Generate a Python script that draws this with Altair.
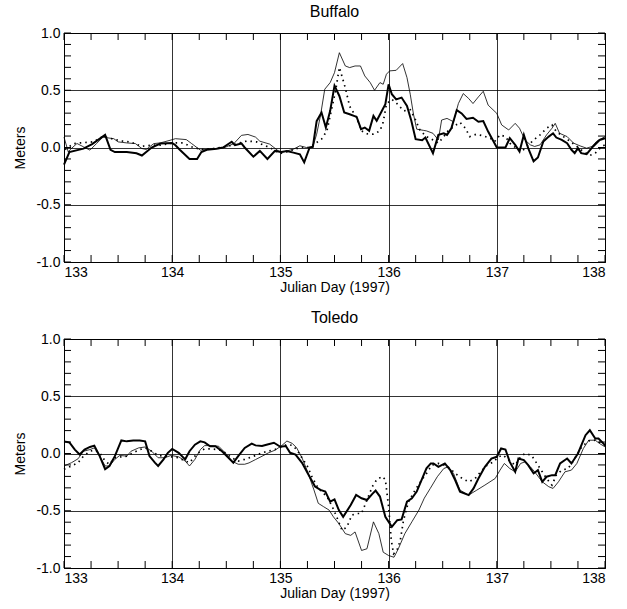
import altair as alt
import pandas as pd

# ---------------- data ----------------
BUF_THICK_D = [133.0, 133.05, 133.18, 133.26, 133.38, 133.43, 133.47, 133.58, 133.67, 133.72, 133.81, 133.89,
               134.0, 134.03, 134.07, 134.16, 134.23, 134.27, 134.32, 134.41, 134.47, 134.55, 134.58, 134.64,
               134.67, 134.75, 134.81, 134.88, 134.95, 135.01, 135.06, 135.12, 135.18, 135.22, 135.27, 135.30,
               135.335, 135.38, 135.42, 135.46, 135.50, 135.545, 135.59, 135.64, 135.705, 135.745, 135.78, 135.82,
               135.86, 135.89, 135.93, 135.97, 136.0, 136.03, 136.07, 136.12, 136.17, 136.21, 136.25, 136.31,
               136.34, 136.41, 136.46, 136.51, 136.54, 136.58, 136.63, 136.675, 136.72, 136.78, 136.83, 136.875,
               136.92, 137.0, 137.08, 137.12, 137.17, 137.21, 137.25, 137.29, 137.34, 137.38, 137.43, 137.48,
               137.52, 137.55, 137.6, 137.65, 137.69, 137.72, 137.75, 137.78, 137.83, 137.89, 137.95, 138.0]
BUF_THICK_V = [-0.15, -0.04, -0.01, 0.03, 0.11, -0.02, -0.04, -0.04, -0.05, -0.07, 0.0, 0.035,
               0.04, 0.02, -0.02, -0.10, -0.10, -0.04, -0.02, -0.01, 0.0, 0.05, 0.02, 0.035,
               0.0, -0.08, -0.03, -0.10, -0.03, -0.04, -0.03, -0.045, -0.06, -0.13, 0.0, 0.006,
               0.23, 0.305, 0.175, 0.32, 0.54, 0.45, 0.305, 0.29, 0.267, 0.16, 0.174, 0.145,
               0.276, 0.233, 0.305, 0.378, 0.552, 0.465, 0.42, 0.436, 0.363, 0.233, 0.073, 0.064,
               0.087, -0.05, 0.11, 0.124, 0.11, 0.168, 0.327, 0.298, 0.249, 0.26, 0.225, 0.231,
               0.139, 0.0, 0.0, 0.081, 0.023, -0.035, 0.11, -0.006, -0.121, -0.087, 0.052, 0.095,
               0.124, 0.087, 0.066, 0.038, -0.02, -0.049, -0.006, -0.049, -0.058, 0.009, 0.066, 0.081]

BUF_THIN_D = [133.0, 133.04, 133.055, 133.12, 133.18, 133.24, 133.30, 133.36, 133.46, 133.50, 133.58, 133.66,
              133.72, 133.76, 133.83, 133.89, 133.98, 134.03, 134.13, 134.18, 134.26, 134.32, 134.41, 134.50,
              134.57, 134.64, 134.70, 134.77, 134.81, 134.90, 135.0, 135.06, 135.12, 135.18, 135.24, 135.30,
              135.335, 135.37, 135.41, 135.46, 135.50, 135.545, 135.60, 135.64, 135.69, 135.74, 135.78, 135.83,
              135.87, 135.92, 135.95, 135.98, 136.01, 136.07, 136.13, 136.17, 136.20, 136.23, 136.26, 136.32,
              136.35, 136.41, 136.46, 136.49, 136.54, 136.60, 136.645, 136.69, 136.74, 136.78, 136.83, 136.875,
              136.92, 137.0, 137.045, 137.11, 137.17, 137.21, 137.26, 137.31, 137.35, 137.40, 137.46, 137.51,
              137.54, 137.58, 137.65, 137.71, 137.77, 137.83, 137.88, 137.92, 138.0]
BUF_THIN_V = [0.09, -0.04, -0.02, 0.035, 0.006, -0.023, 0.034, 0.09, 0.077, 0.049, 0.04, 0.034,
              -0.009, -0.017, 0.034, 0.04, 0.063, 0.077, 0.069, 0.034, -0.023, -0.017, -0.009, 0.006,
              0.034, 0.106, 0.114, 0.091, 0.055, 0.03, -0.044, -0.03, -0.015, 0.015, 0.0, 0.006,
              0.116, 0.276, 0.509, 0.567, 0.654, 0.828, 0.712, 0.698, 0.712, 0.712, 0.625, 0.567,
              0.5, 0.567, 0.552, 0.64, 0.669, 0.674, 0.733, 0.61, 0.465, 0.29, 0.16, 0.15,
              0.145, 0.124, 0.066, 0.24, 0.254, 0.225, 0.384, 0.471, 0.428, 0.384, 0.442, 0.491,
              0.37, 0.298, 0.197, 0.153, 0.211, 0.168, 0.066, 0.023, 0.009, 0.023, 0.11, 0.168,
              0.211, 0.124, 0.095, 0.038, 0.014, -0.006, 0.009, 0.052, 0.095]

BUF_DOT_D = [133.01, 133.09, 133.15, 133.27, 133.36, 133.44, 133.53, 133.61, 133.72, 133.81, 133.89, 134.01,
             134.10, 134.18, 134.26, 134.38, 134.50, 134.60, 134.69, 134.78, 134.81, 134.90, 135.0, 135.09,
             135.18, 135.27, 135.335, 135.38, 135.43, 135.47, 135.51, 135.545, 135.60, 135.64, 135.705, 135.75,
             135.80, 135.86, 135.92, 135.95, 135.98, 136.03, 136.07, 136.14, 136.20, 136.24, 136.29, 136.35,
             136.41, 136.46, 136.51, 136.55, 136.60, 136.66, 136.71, 136.75, 136.81, 136.875, 136.94, 136.98,
             137.03, 137.08, 137.12, 137.18, 137.23, 137.28, 137.34, 137.40, 137.46, 137.51, 137.55, 137.615,
             137.68, 137.74, 137.80, 137.86, 137.91, 137.97, 138.0]
BUF_DOT_V = [-0.017, 0.034, 0.04, 0.049, 0.097, 0.077, 0.057, 0.049, 0.011, 0.02, 0.02, 0.04,
             0.04, 0.006, -0.017, -0.009, 0.006, 0.034, 0.057, 0.049, 0.035, 0.0, -0.052, -0.03,
             0.0, 0.0, 0.044, 0.073, 0.145, 0.32, 0.494, 0.70, 0.52, 0.36, 0.26, 0.145,
             0.12, 0.116, 0.145, 0.22, 0.38, 0.42, 0.39, 0.32, 0.33, 0.26, 0.15, 0.095,
             0.066, 0.038, 0.095, 0.145, 0.182, 0.22, 0.168, 0.095, 0.116, 0.101, 0.081, 0.052,
             0.11, 0.095, 0.038, -0.006, -0.035, 0.009, 0.066, 0.11, 0.168, 0.197, 0.139, 0.095,
             0.052, 0.009, -0.035, -0.069, -0.049, 0.009, 0.023]

TOL_THICK_D = [133.0, 133.05, 133.10, 133.145, 133.19, 133.24, 133.28, 133.33, 133.38, 133.42, 133.47, 133.53,
               133.58, 133.64, 133.70, 133.75, 133.79, 133.84, 133.87, 133.92, 133.96, 134.0, 134.06, 134.12,
               134.16, 134.21, 134.26, 134.30, 134.35, 134.40, 134.46, 134.52, 134.565, 134.61, 134.67, 134.735,
               134.77, 134.83, 134.88, 134.94, 135.0, 135.05, 135.09, 135.14, 135.2, 135.26, 135.32, 135.37,
               135.415, 135.46, 135.50, 135.54, 135.58, 135.65, 135.70, 135.75, 135.80, 135.85, 135.88, 135.92,
               135.97, 136.03, 136.08, 136.12, 136.17, 136.215, 136.26, 136.31, 136.35, 136.39, 136.415, 136.46,
               136.52, 136.57, 136.615, 136.66, 136.74, 136.785, 136.83, 136.89, 136.95, 137.0, 137.04, 137.08,
               137.12, 137.17, 137.2, 137.25, 137.29, 137.34, 137.38, 137.42, 137.46, 137.51, 137.54, 137.585,
               137.65, 137.69, 137.75, 137.82, 137.86, 137.91, 137.94, 138.0]
TOL_THICK_V = [0.106, 0.097, 0.034, -0.009, 0.034, 0.057, 0.069, -0.023, -0.137, -0.109, -0.023, 0.114,
               0.106, 0.114, 0.114, 0.106, -0.023, -0.08, -0.109, -0.051, 0.006, 0.04, 0.006, -0.051,
               0.02, 0.077, 0.106, 0.097, 0.063, 0.063, 0.02, -0.037, -0.08, -0.023, 0.049, 0.086,
               0.071, 0.065, 0.079, 0.094, 0.059, 0.065, 0.006, -0.009, -0.082, -0.185, -0.288, -0.318,
               -0.332, -0.42, -0.40, -0.494, -0.553, -0.45, -0.362, -0.391, -0.406, -0.353, -0.324, -0.376,
               -0.553, -0.641, -0.582, -0.576, -0.42, -0.391, -0.332, -0.22, -0.13, -0.087, -0.087, -0.116,
               -0.087, -0.145, -0.233, -0.334, -0.363, -0.305, -0.218, -0.116, -0.044, -0.029, 0.044, 0.035,
               -0.073, -0.16, -0.044, -0.058, -0.102, -0.174, -0.145, -0.247, -0.203, -0.189, -0.189, -0.087,
               -0.044, -0.087, 0.0, 0.16, 0.203, 0.131, 0.131, 0.073]

TOL_THIN_D = [133.0, 133.07, 133.13, 133.18, 133.24, 133.28, 133.33, 133.38, 133.42, 133.47, 133.515, 133.58,
              133.62, 133.69, 133.75, 133.81, 133.87, 133.93, 133.99, 134.06, 134.12, 134.16, 134.21, 134.26,
              134.30, 134.36, 134.43, 134.49, 134.55, 134.61, 134.67, 134.71, 134.77, 134.83, 134.89, 134.95,
              135.015, 135.06, 135.11, 135.15, 135.2, 135.25, 135.31, 135.35, 135.40, 135.45, 135.49, 135.54,
              135.60, 135.65, 135.69, 135.75, 135.80, 135.86, 135.91, 135.95, 136.0, 136.05, 136.09, 136.15,
              136.215, 136.28, 136.33, 136.385, 136.45, 136.51, 136.55, 136.60, 136.66, 136.74, 136.815, 136.89,
              136.985, 137.03, 137.07, 137.12, 137.17, 137.22, 137.26, 137.31, 137.35, 137.42, 137.48, 137.52,
              137.57, 137.63, 137.69, 137.74, 137.80, 137.85, 137.91, 137.95, 138.0]
TOL_THIN_V = [-0.109, -0.08, -0.046, 0.02, 0.034, 0.049, -0.023, -0.109, -0.109, -0.051, -0.017, -0.023,
              0.02, 0.049, 0.057, 0.02, -0.037, -0.037, -0.017, -0.029, -0.066, -0.109, -0.051, 0.034,
              0.069, 0.069, 0.063, 0.006, -0.066, -0.094, -0.094, -0.082, -0.053, -0.024, 0.006, 0.029,
              0.071, 0.109, 0.088, 0.05, -0.038, -0.156, -0.318, -0.435, -0.465, -0.494, -0.553, -0.612,
              -0.70, -0.715, -0.685, -0.847, -0.832, -0.597, -0.70, -0.862, -0.891, -0.906, -0.832, -0.70,
              -0.597, -0.494, -0.39, -0.305, -0.203, -0.131, -0.116, -0.174, -0.32, -0.363, -0.32, -0.276,
              -0.218, -0.145, -0.087, -0.131, -0.16, -0.087, -0.073, -0.116, -0.16, -0.247, -0.29, -0.305,
              -0.247, -0.16, -0.145, -0.087, 0.044, 0.116, 0.116, 0.087, 0.058]

TOL_DOT_D = [133.0, 133.07, 133.13, 133.18, 133.24, 133.28, 133.33, 133.38, 133.42, 133.47, 133.53, 133.58,
             133.64, 133.70, 133.75, 133.81, 133.87, 133.93, 133.99, 134.06, 134.12, 134.16, 134.21, 134.26,
             134.30, 134.36, 134.43, 134.49, 134.55, 134.61, 134.67, 134.71, 134.77, 134.83, 134.89, 134.95,
             135.015, 135.06, 135.11, 135.15, 135.2, 135.25, 135.29, 135.34, 135.38, 135.43, 135.48, 135.52,
             135.57, 135.615, 135.66, 135.71, 135.75, 135.80, 135.85, 135.89, 135.94, 135.97, 136.0, 136.025,
             136.046, 136.077, 136.108, 136.138, 136.184, 136.246, 136.307, 136.34, 136.40, 136.46, 136.52, 136.57,
             136.615, 136.68, 136.74, 136.80, 136.85, 136.91, 136.97, 137.015, 137.06, 137.11, 137.17, 137.22,
             137.26, 137.32, 137.37, 137.42, 137.46, 137.51, 137.55, 137.60, 137.66, 137.72, 137.785, 137.85,
             137.91, 137.97, 138.0]
TOL_DOT_V = [-0.137, -0.109, -0.08, -0.023, 0.02, 0.029, 0.006, -0.066, -0.094, -0.037, -0.029, -0.023,
             0.006, 0.034, 0.049, 0.02, -0.017, -0.023, -0.029, -0.037, -0.066, -0.08, -0.023, 0.02,
             0.04, 0.04, 0.034, 0.006, -0.037, -0.066, -0.051, -0.038, -0.018, 0.006, 0.021, 0.035,
             0.059, 0.079, 0.071, 0.035, -0.038, -0.112, -0.2, -0.288, -0.332, -0.376, -0.465, -0.553,
             -0.671, -0.641, -0.538, -0.524, -0.524, -0.406, -0.288, -0.229, -0.2, -0.229, -0.465, -0.759,
             -0.876, -0.847, -0.759, -0.582, -0.421, -0.318, -0.229, -0.189, -0.102, -0.087, -0.102, -0.131,
             -0.174, -0.218, -0.247, -0.218, -0.16, -0.102, -0.073, -0.029, -0.015, -0.058, -0.102, -0.029,
             0.0, -0.015, -0.087, -0.16, -0.218, -0.276, -0.189, -0.145, -0.131, -0.044, 0.058, 0.11,
             0.116, 0.087, 0.07]

X_MAJOR = [133, 134, 135, 136, 137, 138]
Y_MAJOR = [-1.0, -0.5, 0.0, 0.5, 1.0]
X_MINOR = [round(133 + 0.25 * i, 2) for i in range(21)]
Y_MINOR = [round(-1.0 + 0.1 * i, 1) for i in range(21)]

FONT = "Liberation Sans"
W, H = 541, 229
TICK = 7


def panel(title, thick, thin, dot):
    xs = alt.Scale(domain=[133, 138], nice=False, zero=False)
    ys = alt.Scale(domain=[-1, 1], nice=False, zero=False)
    x_axis = alt.Axis(values=X_MAJOR, format="d", grid=True, gridColor="black", gridWidth=0.8,
                      gridOpacity=1, ticks=False, domain=False, labelFont=FONT, labelFontSize=14,
                      labelColor="black", labelPadding=3, title="Julian Day (1997)", titleFont=FONT,
                      titleFontSize=14, titleFontWeight="normal", titleColor="black", titlePadding=1)
    y_axis = alt.Axis(values=Y_MAJOR, grid=True, gridColor="black", gridWidth=0.8, gridOpacity=1,
                      ticks=False, domain=False, labelFont=FONT, labelFontSize=14, labelColor="black",
                      labelPadding=4,
                      labelExpr="(datum.value < 0 ? '-' : '') + format(abs(datum.value), '.1f')",
                      title="Meters", titleFont=FONT, titleFontSize=14, titleFontWeight="normal",
                      titleColor="black", titlePadding=8)

    X = lambda: alt.X("day:Q", scale=xs, axis=x_axis)
    Y = lambda: alt.Y("m:Q", scale=ys, axis=y_axis)

    def line_layer(d, v, style):
        df = pd.DataFrame({"day": d, "m": v})
        return alt.Chart(df).mark_line(color="black", **style).encode(x=X(), y=Y())

    thin_l = line_layer(thin[0], thin[1], dict(strokeWidth=0.8))
    dot_l = line_layer(dot[0], dot[1], dict(strokeWidth=1.7, strokeDash=[1.5, 4]))
    thick_l = line_layer(thick[0], thick[1], dict(strokeWidth=2.0))

    xt = pd.DataFrame({"day": X_MINOR})
    yt = pd.DataFrame({"m": Y_MINOR})
    tb = alt.Chart(xt).mark_rule(color="black", strokeWidth=1).encode(
        x=X(), y=alt.value(H), y2=alt.value(H - TICK))
    tt = alt.Chart(xt).mark_rule(color="black", strokeWidth=1).encode(
        x=X(), y=alt.value(0), y2=alt.value(TICK))
    tl = alt.Chart(yt).mark_rule(color="black", strokeWidth=1).encode(
        y=Y(), x=alt.value(0), x2=alt.value(TICK))
    tr = alt.Chart(yt).mark_rule(color="black", strokeWidth=1).encode(
        y=Y(), x=alt.value(W), x2=alt.value(W - TICK))

    return alt.layer(thin_l, dot_l, thick_l, tb, tt, tl, tr).properties(
        width=W, height=H,
        title=alt.TitleParams(title, font=FONT, fontSize=16, fontWeight="normal", color="black",
                              anchor="middle", offset=6),
    )


top = panel("Buffalo", (BUF_THICK_D, BUF_THICK_V), (BUF_THIN_D, BUF_THIN_V), (BUF_DOT_D, BUF_DOT_V))
bottom = panel("Toledo", (TOL_THICK_D, TOL_THICK_V), (TOL_THIN_D, TOL_THIN_V), (TOL_DOT_D, TOL_DOT_V))

chart = alt.vconcat(top, bottom, spacing=14).properties(
    padding={"left": 13, "top": 3, "right": 15, "bottom": 4},
    background="white",
).configure_view(stroke="black", strokeWidth=1)

chart.save("out.html", embed_options={"renderer": "svg", "actions": False})
